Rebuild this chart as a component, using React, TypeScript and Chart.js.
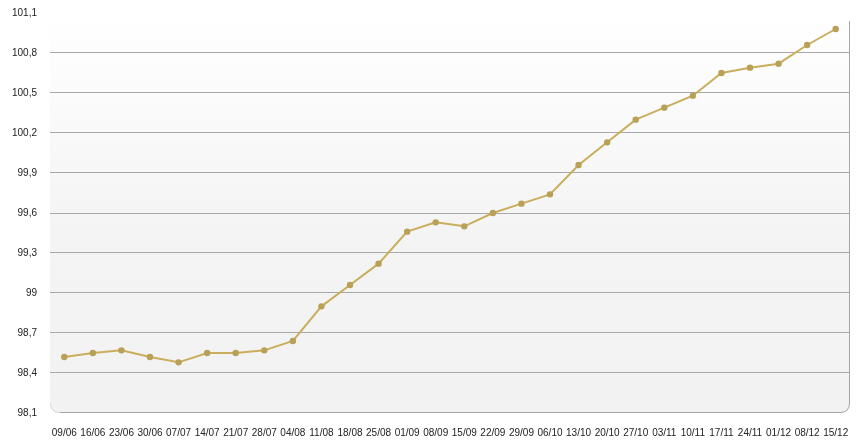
import React, { useEffect, useRef } from "react";
import { Chart, registerables } from "chart.js";

Chart.register(...registerables);

const categories = [
  "09/06", "16/06", "23/06", "30/06", "07/07", "14/07", "21/07", "28/07", "04/08",
  "11/08", "18/08", "25/08", "01/09", "08/09", "15/09", "22/09", "29/09", "06/10",
  "13/10", "20/10", "27/10", "03/11", "10/11", "17/11", "24/11", "01/12", "08/12", "15/12",
];

const values = [
  98.52, 98.55, 98.57, 98.52, 98.48, 98.55, 98.55, 98.57, 98.64,
  98.90, 99.06, 99.22, 99.46, 99.53, 99.50, 99.60, 99.67, 99.74,
  99.96, 100.13, 100.30, 100.39, 100.48, 100.65, 100.69, 100.72, 100.86, 100.98,
];

const yTickValues = [98.1, 98.4, 98.7, 99.0, 99.3, 99.6, 99.9, 100.2, 100.5, 100.8, 101.1];
const yTickLabels = ["98,1", "98,4", "98,7", "99", "99,3", "99,6", "99,9", "100,2", "100,5", "100,8", "101,1"];

const plotBackground = {
  id: "plotBackground",
  beforeDraw(chart: any) {
    const { ctx, chartArea } = chart;
    const { left, right, top, bottom } = chartArea;
    const r = 10;
    ctx.save();
    const g = ctx.createLinearGradient(0, top, 0, bottom);
    g.addColorStop(0, "#ffffff");
    g.addColorStop(0.55, "#f4f4f4");
    g.addColorStop(1, "#f2f2f2");
    ctx.beginPath();
    ctx.moveTo(left, top);
    ctx.lineTo(right - r, top);
    ctx.quadraticCurveTo(right, top, right, top + r);
    ctx.lineTo(right, bottom - r);
    ctx.quadraticCurveTo(right, bottom, right - r, bottom);
    ctx.lineTo(left + r, bottom);
    ctx.quadraticCurveTo(left, bottom, left, bottom - r);
    ctx.closePath();
    ctx.fillStyle = g;
    ctx.fill();
    ctx.beginPath();
    ctx.moveTo(right - 0.5, top + 8);
    ctx.lineTo(right - 0.5, bottom - r);
    ctx.quadraticCurveTo(right - 0.5, bottom - 0.5, right - r, bottom - 0.5);
    ctx.lineTo(left + r, bottom - 0.5);
    ctx.strokeStyle = "#a6a6a6";
    ctx.lineWidth = 1;
    ctx.stroke();
    ctx.beginPath();
    ctx.moveTo(left + r, bottom - 0.5);
    ctx.quadraticCurveTo(left + 0.5, bottom - 0.5, left + 0.5, bottom - r);
    ctx.strokeStyle = "#d8d8d8";
    ctx.stroke();
    ctx.restore();
  },
};

export default function App() {
  const ref = useRef<HTMLCanvasElement>(null);

  useEffect(() => {
    document.body.style.margin = "0";
    const canvas = ref.current!;
    const chart = new Chart(canvas, {
      type: "line",
      data: {
        labels: categories,
        datasets: [
          {
            data: values,
            borderColor: "#c9ae5c",
            borderWidth: 2,
            pointBackgroundColor: "#b8a056",
            pointBorderColor: "#b8a056",
            pointBorderWidth: 0,
            pointRadius: 3.2,
            tension: 0,
            fill: false,
          },
        ],
      },
      options: {
        animation: false,
        responsive: false,
        maintainAspectRatio: false,
        layout: { padding: { top: 13, right: 12, left: 0, bottom: 0 } },
        plugins: { legend: { display: false }, tooltip: { enabled: false } },
        scales: {
          x: {
            type: "category",
            offset: true,
            border: { display: false },
            grid: { display: false, drawTicks: false },
            ticks: {
              color: "#222222",
              font: { family: "Arial, 'Liberation Sans', sans-serif", size: 10 },
              maxRotation: 0,
              minRotation: 0,
              autoSkip: false,
              padding: 14,
            },
            afterFit(scale: any) {
              scale.height = 33;
              scale.paddingLeft = 0;
              scale.paddingRight = 0;
            },
          },
          y: {
            type: "linear",
            min: 98.1,
            max: 101.1,
            border: { display: false },
            afterBuildTicks(scale: any) {
              scale.ticks = yTickValues.map((v) => ({ value: v }));
            },
            grid: {
              drawTicks: false,
              color: (c: any) => {
                const v = c.tick ? c.tick.value : 0;
                if (Math.abs(v - 101.1) < 1e-6 || Math.abs(v - 98.1) < 1e-6) return "rgba(0,0,0,0)";
                return "#a8a8a8";
              },
              lineWidth: 1,
            },
            ticks: {
              color: "#222222",
              font: { family: "Arial, 'Liberation Sans', sans-serif", size: 10 },
              padding: 13,
              callback: (_v: any, i: number) => yTickLabels[i],
            },
            afterFit(scale: any) {
              scale.width = 50;
              scale.paddingTop = 0;
              scale.paddingBottom = 0;
            },
          },
        },
      },
      plugins: [plotBackground],
    });
    return () => chart.destroy();
  }, []);

  return (
    <div style={{ width: 862, height: 446, background: "#ffffff" }}>
      <canvas ref={ref} width={862} height={446} style={{ display: "block" }} />
    </div>
  );
}
